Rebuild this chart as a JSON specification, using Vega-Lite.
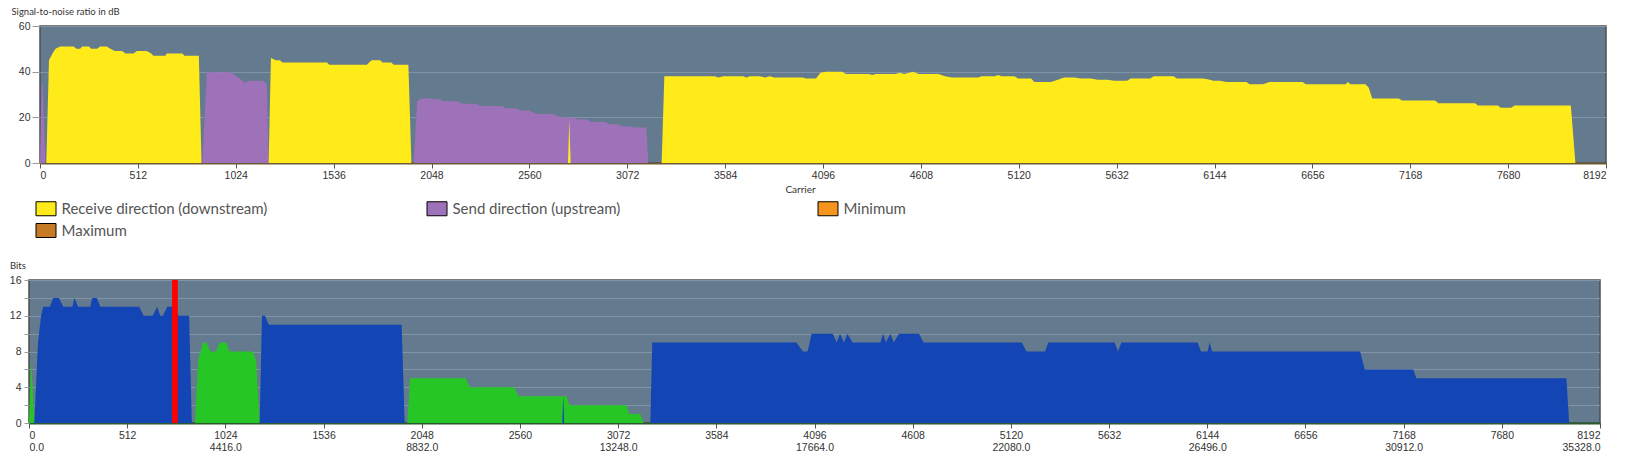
{
  "$schema": "https://vega.github.io/schema/vega-lite/v6.json",
  "background": "white",
  "padding": {"left": 8, "top": 5, "right": 0, "bottom": 0},
  "config": {
    "font": "Liberation Sans",
    "view": {"fill": "#647a8e", "stroke": "#4d4d4d", "strokeWidth": 1.5},
    "axis": {"labelFont": "Liberation Sans", "labelFontSize": 10.5, "labelColor": "#333333", "tickColor": "#9a9a9a", "gridColor": "#8094a5", "gridWidth": 1, "titleFont": "Lato", "titleFontWeight": "normal", "titleFontSize": 10, "titleColor": "#333333"}
  },
  "datasets": {
    "snr": [
      {"c": 0, "v": 0, "s": "Send direction (upstream)"},
      {"c": 8, "v": 34, "s": "Send direction (upstream)"},
      {"c": 14, "v": 34, "s": "Send direction (upstream)"},
      {"c": 28, "v": 0, "s": "Send direction (upstream)"},
      {"c": 849, "v": 0, "s": "Send direction (upstream)"},
      {"c": 873, "v": 40, "s": "Send direction (upstream)"},
      {"c": 908, "v": 40, "s": "Send direction (upstream)"},
      {"c": 920, "v": 39.5, "s": "Send direction (upstream)"},
      {"c": 940, "v": 39.5, "s": "Send direction (upstream)"},
      {"c": 954, "v": 40, "s": "Send direction (upstream)"},
      {"c": 989, "v": 40, "s": "Send direction (upstream)"},
      {"c": 1012, "v": 39, "s": "Send direction (upstream)"},
      {"c": 1029, "v": 38, "s": "Send direction (upstream)"},
      {"c": 1045, "v": 37, "s": "Send direction (upstream)"},
      {"c": 1059, "v": 36, "s": "Send direction (upstream)"},
      {"c": 1070, "v": 35, "s": "Send direction (upstream)"},
      {"c": 1094, "v": 36, "s": "Send direction (upstream)"},
      {"c": 1164, "v": 36, "s": "Send direction (upstream)"},
      {"c": 1180, "v": 35, "s": "Send direction (upstream)"},
      {"c": 1187, "v": 34, "s": "Send direction (upstream)"},
      {"c": 1196, "v": 0, "s": "Send direction (upstream)"},
      {"c": 1955, "v": 0, "s": "Send direction (upstream)"},
      {"c": 1973, "v": 27, "s": "Send direction (upstream)"},
      {"c": 1990, "v": 28, "s": "Send direction (upstream)"},
      {"c": 2020, "v": 28.5, "s": "Send direction (upstream)"},
      {"c": 2060, "v": 28, "s": "Send direction (upstream)"},
      {"c": 2094, "v": 28, "s": "Send direction (upstream)"},
      {"c": 2106, "v": 27, "s": "Send direction (upstream)"},
      {"c": 2187, "v": 27, "s": "Send direction (upstream)"},
      {"c": 2211, "v": 26, "s": "Send direction (upstream)"},
      {"c": 2280, "v": 26, "s": "Send direction (upstream)"},
      {"c": 2304, "v": 25, "s": "Send direction (upstream)"},
      {"c": 2420, "v": 25, "s": "Send direction (upstream)"},
      {"c": 2432, "v": 24, "s": "Send direction (upstream)"},
      {"c": 2490, "v": 24, "s": "Send direction (upstream)"},
      {"c": 2513, "v": 23, "s": "Send direction (upstream)"},
      {"c": 2560, "v": 23, "s": "Send direction (upstream)"},
      {"c": 2583, "v": 22, "s": "Send direction (upstream)"},
      {"c": 2606, "v": 21.5, "s": "Send direction (upstream)"},
      {"c": 2676, "v": 21.5, "s": "Send direction (upstream)"},
      {"c": 2699, "v": 21, "s": "Send direction (upstream)"},
      {"c": 2723, "v": 20, "s": "Send direction (upstream)"},
      {"c": 2781, "v": 20, "s": "Send direction (upstream)"},
      {"c": 2816, "v": 19, "s": "Send direction (upstream)"},
      {"c": 2862, "v": 19, "s": "Send direction (upstream)"},
      {"c": 2885, "v": 18, "s": "Send direction (upstream)"},
      {"c": 2955, "v": 18, "s": "Send direction (upstream)"},
      {"c": 2979, "v": 17, "s": "Send direction (upstream)"},
      {"c": 3025, "v": 17, "s": "Send direction (upstream)"},
      {"c": 3048, "v": 16, "s": "Send direction (upstream)"},
      {"c": 3095, "v": 16, "s": "Send direction (upstream)"},
      {"c": 3107, "v": 15.5, "s": "Send direction (upstream)"},
      {"c": 3172, "v": 15.5, "s": "Send direction (upstream)"},
      {"c": 3182, "v": 0, "s": "Send direction (upstream)"},

      {"c": 33, "v": 0, "s": "Receive direction (downstream)"},
      {"c": 47, "v": 45, "s": "Receive direction (downstream)"},
      {"c": 65, "v": 48, "s": "Receive direction (downstream)"},
      {"c": 81, "v": 50, "s": "Receive direction (downstream)"},
      {"c": 105, "v": 51, "s": "Receive direction (downstream)"},
      {"c": 175, "v": 51, "s": "Receive direction (downstream)"},
      {"c": 191, "v": 50, "s": "Receive direction (downstream)"},
      {"c": 210, "v": 50, "s": "Receive direction (downstream)"},
      {"c": 221, "v": 51, "s": "Receive direction (downstream)"},
      {"c": 256, "v": 51, "s": "Receive direction (downstream)"},
      {"c": 268, "v": 50, "s": "Receive direction (downstream)"},
      {"c": 298, "v": 50, "s": "Receive direction (downstream)"},
      {"c": 314, "v": 51, "s": "Receive direction (downstream)"},
      {"c": 349, "v": 51, "s": "Receive direction (downstream)"},
      {"c": 368, "v": 50, "s": "Receive direction (downstream)"},
      {"c": 391, "v": 49, "s": "Receive direction (downstream)"},
      {"c": 430, "v": 49, "s": "Receive direction (downstream)"},
      {"c": 447, "v": 48, "s": "Receive direction (downstream)"},
      {"c": 489, "v": 48, "s": "Receive direction (downstream)"},
      {"c": 507, "v": 49, "s": "Receive direction (downstream)"},
      {"c": 558, "v": 49, "s": "Receive direction (downstream)"},
      {"c": 582, "v": 48, "s": "Receive direction (downstream)"},
      {"c": 593, "v": 47, "s": "Receive direction (downstream)"},
      {"c": 656, "v": 47, "s": "Receive direction (downstream)"},
      {"c": 663, "v": 48, "s": "Receive direction (downstream)"},
      {"c": 745, "v": 48, "s": "Receive direction (downstream)"},
      {"c": 756, "v": 47, "s": "Receive direction (downstream)"},
      {"c": 831, "v": 47, "s": "Receive direction (downstream)"},
      {"c": 845, "v": 0, "s": "Receive direction (downstream)"},
      {"c": 1196, "v": 0, "s": "Receive direction (downstream)"},
      {"c": 1208, "v": 46, "s": "Receive direction (downstream)"},
      {"c": 1220, "v": 45.5, "s": "Receive direction (downstream)"},
      {"c": 1233, "v": 45, "s": "Receive direction (downstream)"},
      {"c": 1255, "v": 45, "s": "Receive direction (downstream)"},
      {"c": 1268, "v": 44, "s": "Receive direction (downstream)"},
      {"c": 1501, "v": 44, "s": "Receive direction (downstream)"},
      {"c": 1513, "v": 43, "s": "Receive direction (downstream)"},
      {"c": 1710, "v": 43, "s": "Receive direction (downstream)"},
      {"c": 1722, "v": 44, "s": "Receive direction (downstream)"},
      {"c": 1735, "v": 45, "s": "Receive direction (downstream)"},
      {"c": 1780, "v": 45, "s": "Receive direction (downstream)"},
      {"c": 1792, "v": 44, "s": "Receive direction (downstream)"},
      {"c": 1838, "v": 44, "s": "Receive direction (downstream)"},
      {"c": 1850, "v": 43, "s": "Receive direction (downstream)"},
      {"c": 1927, "v": 43, "s": "Receive direction (downstream)"},
      {"c": 1943, "v": 0, "s": "Receive direction (downstream)"},
      {"c": 2762, "v": 0, "s": "Receive direction (downstream)"},
      {"c": 2769, "v": 19, "s": "Receive direction (downstream)"},
      {"c": 2776, "v": 0, "s": "Receive direction (downstream)"},
      {"c": 3252, "v": 0, "s": "Receive direction (downstream)"},
      {"c": 3266, "v": 38, "s": "Receive direction (downstream)"},
      {"c": 3529, "v": 38, "s": "Receive direction (downstream)"},
      {"c": 3550, "v": 37.5, "s": "Receive direction (downstream)"},
      {"c": 3574, "v": 38, "s": "Receive direction (downstream)"},
      {"c": 3678, "v": 38, "s": "Receive direction (downstream)"},
      {"c": 3696, "v": 37.5, "s": "Receive direction (downstream)"},
      {"c": 3713, "v": 38, "s": "Receive direction (downstream)"},
      {"c": 3765, "v": 38, "s": "Receive direction (downstream)"},
      {"c": 3793, "v": 37.5, "s": "Receive direction (downstream)"},
      {"c": 3817, "v": 38, "s": "Receive direction (downstream)"},
      {"c": 3841, "v": 37.5, "s": "Receive direction (downstream)"},
      {"c": 3990, "v": 37.5, "s": "Receive direction (downstream)"},
      {"c": 4007, "v": 37, "s": "Receive direction (downstream)"},
      {"c": 4059, "v": 37, "s": "Receive direction (downstream)"},
      {"c": 4083, "v": 39.5, "s": "Receive direction (downstream)"},
      {"c": 4111, "v": 40, "s": "Receive direction (downstream)"},
      {"c": 4198, "v": 40, "s": "Receive direction (downstream)"},
      {"c": 4215, "v": 39, "s": "Receive direction (downstream)"},
      {"c": 4336, "v": 39, "s": "Receive direction (downstream)"},
      {"c": 4354, "v": 38.5, "s": "Receive direction (downstream)"},
      {"c": 4371, "v": 39, "s": "Receive direction (downstream)"},
      {"c": 4475, "v": 39, "s": "Receive direction (downstream)"},
      {"c": 4499, "v": 39.5, "s": "Receive direction (downstream)"},
      {"c": 4520, "v": 39, "s": "Receive direction (downstream)"},
      {"c": 4568, "v": 40, "s": "Receive direction (downstream)"},
      {"c": 4596, "v": 39, "s": "Receive direction (downstream)"},
      {"c": 4700, "v": 39, "s": "Receive direction (downstream)"},
      {"c": 4735, "v": 38, "s": "Receive direction (downstream)"},
      {"c": 4769, "v": 37.5, "s": "Receive direction (downstream)"},
      {"c": 4908, "v": 37.5, "s": "Receive direction (downstream)"},
      {"c": 4925, "v": 38, "s": "Receive direction (downstream)"},
      {"c": 4994, "v": 38, "s": "Receive direction (downstream)"},
      {"c": 5012, "v": 38.5, "s": "Receive direction (downstream)"},
      {"c": 5029, "v": 38, "s": "Receive direction (downstream)"},
      {"c": 5098, "v": 38, "s": "Receive direction (downstream)"},
      {"c": 5116, "v": 37, "s": "Receive direction (downstream)"},
      {"c": 5185, "v": 37, "s": "Receive direction (downstream)"},
      {"c": 5202, "v": 35.5, "s": "Receive direction (downstream)"},
      {"c": 5289, "v": 35.5, "s": "Receive direction (downstream)"},
      {"c": 5324, "v": 36.5, "s": "Receive direction (downstream)"},
      {"c": 5358, "v": 37.5, "s": "Receive direction (downstream)"},
      {"c": 5410, "v": 37.5, "s": "Receive direction (downstream)"},
      {"c": 5445, "v": 37, "s": "Receive direction (downstream)"},
      {"c": 5497, "v": 37, "s": "Receive direction (downstream)"},
      {"c": 5532, "v": 36.5, "s": "Receive direction (downstream)"},
      {"c": 5584, "v": 36.5, "s": "Receive direction (downstream)"},
      {"c": 5618, "v": 36, "s": "Receive direction (downstream)"},
      {"c": 5687, "v": 36, "s": "Receive direction (downstream)"},
      {"c": 5705, "v": 37, "s": "Receive direction (downstream)"},
      {"c": 5808, "v": 37, "s": "Receive direction (downstream)"},
      {"c": 5826, "v": 38, "s": "Receive direction (downstream)"},
      {"c": 5930, "v": 38, "s": "Receive direction (downstream)"},
      {"c": 5947, "v": 37, "s": "Receive direction (downstream)"},
      {"c": 6086, "v": 37, "s": "Receive direction (downstream)"},
      {"c": 6120, "v": 36.5, "s": "Receive direction (downstream)"},
      {"c": 6138, "v": 36, "s": "Receive direction (downstream)"},
      {"c": 6172, "v": 36, "s": "Receive direction (downstream)"},
      {"c": 6207, "v": 35.5, "s": "Receive direction (downstream)"},
      {"c": 6311, "v": 35.5, "s": "Receive direction (downstream)"},
      {"c": 6328, "v": 34.5, "s": "Receive direction (downstream)"},
      {"c": 6397, "v": 34.5, "s": "Receive direction (downstream)"},
      {"c": 6432, "v": 35.5, "s": "Receive direction (downstream)"},
      {"c": 6605, "v": 35.5, "s": "Receive direction (downstream)"},
      {"c": 6622, "v": 34.5, "s": "Receive direction (downstream)"},
      {"c": 6830, "v": 34.5, "s": "Receive direction (downstream)"},
      {"c": 6841, "v": 35.5, "s": "Receive direction (downstream)"},
      {"c": 6855, "v": 34.5, "s": "Receive direction (downstream)"},
      {"c": 6934, "v": 34.5, "s": "Receive direction (downstream)"},
      {"c": 6951, "v": 33, "s": "Receive direction (downstream)"},
      {"c": 6969, "v": 28.2, "s": "Receive direction (downstream)"},
      {"c": 7108, "v": 28.2, "s": "Receive direction (downstream)"},
      {"c": 7125, "v": 27.4, "s": "Receive direction (downstream)"},
      {"c": 7298, "v": 27.4, "s": "Receive direction (downstream)"},
      {"c": 7315, "v": 26.2, "s": "Receive direction (downstream)"},
      {"c": 7506, "v": 26.2, "s": "Receive direction (downstream)"},
      {"c": 7523, "v": 25.2, "s": "Receive direction (downstream)"},
      {"c": 7627, "v": 25.2, "s": "Receive direction (downstream)"},
      {"c": 7641, "v": 24.2, "s": "Receive direction (downstream)"},
      {"c": 7696, "v": 24.2, "s": "Receive direction (downstream)"},
      {"c": 7714, "v": 25.2, "s": "Receive direction (downstream)"},
      {"c": 8008, "v": 25.2, "s": "Receive direction (downstream)"},
      {"c": 8032, "v": 0, "s": "Receive direction (downstream)"}
    ],
    "bits": [
      {"c": 0, "v": 0, "s": "up"},
      {"c": 12, "v": 7, "s": "up"},
      {"c": 28, "v": 0, "s": "up"},
      {"c": 866, "v": 0, "s": "up"},
      {"c": 882, "v": 7, "s": "up"},
      {"c": 894, "v": 8, "s": "up"},
      {"c": 908, "v": 9, "s": "up"},
      {"c": 924, "v": 9, "s": "up"},
      {"c": 947, "v": 8, "s": "up"},
      {"c": 975, "v": 8, "s": "up"},
      {"c": 994, "v": 9, "s": "up"},
      {"c": 1029, "v": 9, "s": "up"},
      {"c": 1045, "v": 8, "s": "up"},
      {"c": 1168, "v": 8, "s": "up"},
      {"c": 1184, "v": 7, "s": "up"},
      {"c": 1203, "v": 0, "s": "up"},
      {"c": 1973, "v": 0, "s": "up"},
      {"c": 1987, "v": 5, "s": "up"},
      {"c": 2278, "v": 5, "s": "up"},
      {"c": 2297, "v": 4, "s": "up"},
      {"c": 2529, "v": 4, "s": "up"},
      {"c": 2553, "v": 3, "s": "up"},
      {"c": 2802, "v": 3, "s": "up"},
      {"c": 2820, "v": 2, "s": "up"},
      {"c": 3116, "v": 2, "s": "up"},
      {"c": 3130, "v": 1, "s": "up"},
      {"c": 3188, "v": 1, "s": "up"},
      {"c": 3204, "v": 0, "s": "up"},

      {"c": 28, "v": 0, "s": "down"},
      {"c": 47, "v": 9, "s": "down"},
      {"c": 63, "v": 12, "s": "down"},
      {"c": 74, "v": 13, "s": "down"},
      {"c": 109, "v": 13, "s": "down"},
      {"c": 126, "v": 14, "s": "down"},
      {"c": 156, "v": 14, "s": "down"},
      {"c": 179, "v": 13, "s": "down"},
      {"c": 226, "v": 13, "s": "down"},
      {"c": 237, "v": 14, "s": "down"},
      {"c": 256, "v": 13, "s": "down"},
      {"c": 319, "v": 13, "s": "down"},
      {"c": 330, "v": 14, "s": "down"},
      {"c": 354, "v": 14, "s": "down"},
      {"c": 372, "v": 13, "s": "down"},
      {"c": 575, "v": 13, "s": "down"},
      {"c": 598, "v": 12, "s": "down"},
      {"c": 645, "v": 12, "s": "down"},
      {"c": 668, "v": 13, "s": "down"},
      {"c": 684, "v": 12, "s": "down"},
      {"c": 698, "v": 12, "s": "down"},
      {"c": 721, "v": 13, "s": "down"},
      {"c": 760, "v": 13, "s": "down"},
      {"c": 780, "v": 12, "s": "down"},
      {"c": 835, "v": 12, "s": "down"},
      {"c": 849, "v": 0, "s": "down"},
      {"c": 1203, "v": 0, "s": "down"},
      {"c": 1215, "v": 12, "s": "down"},
      {"c": 1231, "v": 12, "s": "down"},
      {"c": 1250, "v": 11, "s": "down"},
      {"c": 1943, "v": 11, "s": "down"},
      {"c": 1959, "v": 0, "s": "down"},
      {"c": 2781, "v": 0, "s": "down"},
      {"c": 2786, "v": 3, "s": "down"},
      {"c": 2791, "v": 0, "s": "down"},
      {"c": 3240, "v": 0, "s": "down"},
      {"c": 3250, "v": 9, "s": "down"},
      {"c": 4001, "v": 9, "s": "down"},
      {"c": 4036, "v": 8, "s": "down"},
      {"c": 4060, "v": 8, "s": "down"},
      {"c": 4081, "v": 10, "s": "down"},
      {"c": 4191, "v": 10, "s": "down"},
      {"c": 4212, "v": 9, "s": "down"},
      {"c": 4229, "v": 10, "s": "down"},
      {"c": 4250, "v": 9, "s": "down"},
      {"c": 4267, "v": 10, "s": "down"},
      {"c": 4295, "v": 9, "s": "down"},
      {"c": 4440, "v": 9, "s": "down"},
      {"c": 4454, "v": 10, "s": "down"},
      {"c": 4468, "v": 9, "s": "down"},
      {"c": 4492, "v": 10, "s": "down"},
      {"c": 4509, "v": 9, "s": "down"},
      {"c": 4537, "v": 10, "s": "down"},
      {"c": 4641, "v": 10, "s": "down"},
      {"c": 4665, "v": 9, "s": "down"},
      {"c": 5177, "v": 9, "s": "down"},
      {"c": 5201, "v": 8, "s": "down"},
      {"c": 5298, "v": 8, "s": "down"},
      {"c": 5315, "v": 9, "s": "down"},
      {"c": 5661, "v": 9, "s": "down"},
      {"c": 5679, "v": 8, "s": "down"},
      {"c": 5696, "v": 9, "s": "down"},
      {"c": 6094, "v": 9, "s": "down"},
      {"c": 6111, "v": 8, "s": "down"},
      {"c": 6146, "v": 8, "s": "down"},
      {"c": 6156, "v": 9, "s": "down"},
      {"c": 6170, "v": 8, "s": "down"},
      {"c": 6941, "v": 8, "s": "down"},
      {"c": 6965, "v": 6, "s": "down"},
      {"c": 7218, "v": 6, "s": "down"},
      {"c": 7235, "v": 5, "s": "down"},
      {"c": 8017, "v": 5, "s": "down"},
      {"c": 8031, "v": 0, "s": "down"}
    ],
    "marker": [
      {"c": 746, "c2": 776, "v": 0, "v2": 16}
    ],
    "spacer": []
  },
  "spacing": 63,
  "vconcat": [
    {
      "spacing": -20,
      "hconcat": [
        {
          "width": 1,
          "height": 1,
          "view": {"fill": null, "stroke": null},
          "data": {"name": "spacer"},
          "mark": {"type": "rect"},
          "encoding": {}
        },
        {
          "width": 1566,
          "height": 137,
          "title": {"text": "Signal-to-noise ratio in dB", "anchor": "start", "frame": "group", "dx": -28.5, "font": "Lato", "fontSize": 9.5, "fontWeight": "normal", "color": "#333333", "offset": 5},
          "data": {"name": "snr"},
          "encoding": {
            "x": {"field": "c", "type": "quantitative", "scale": {"domain": [0, 8192], "nice": false, "zero": false},
              "axis": {"values": [0, 512, 1024, 1536, 2048, 2560, 3072, 3584, 4096, 4608, 5120, 5632, 6144, 6656, 7168, 7680, 8192], "format": "d", "title": "Carrier", "titleX": 760, "titlePadding": 4, "grid": false, "domainColor": "#6e5a36", "domainWidth": 2, "tickColor": "#555555", "tickSize": 5, "labelPadding": 2}},
            "y": {"field": "v", "type": "quantitative", "stack": null, "scale": {"domain": [0, 60], "nice": false},
              "axis": {"values": [0, 20, 40, 60], "title": null, "domain": false, "tickSize": 8, "labelPadding": 2, "grid": true}}
          },
          "layer": [
            {
              "transform": [{"filter": "datum.s === 'Send direction (upstream)'"}],
              "mark": {"type": "area", "interpolate": "linear", "opacity": 1},
              "encoding": {
                "color": {"field": "s", "type": "nominal",
                  "scale": {"domain": ["Receive direction (downstream)", "Send direction (upstream)", "Minimum", "Maximum"], "range": ["#ffea1a", "#9d72b9", "#f7941d", "#c77a26"]},
                  "legend": {"orient": "none", "legendX": 6.5, "legendY": 172, "direction": "horizontal", "columns": 3, "title": null,
                    "symbolType": "M-1,-0.7H1V0.7H-1Z", "symbolSize": 400, "symbolStrokeColor": "#000000", "symbolStrokeWidth": 1, "symbolOpacity": 1,
                    "labelFont": "Lato", "labelFontSize": 15, "labelColor": "#555555", "labelOffset": 5, "labelLimit": 400,
                    "columnPadding": 157, "rowPadding": 2, "gridAlign": "all"}}
              }
            },
            {
              "transform": [{"filter": "datum.s === 'Receive direction (downstream)'"}],
              "mark": {"type": "area", "interpolate": "linear", "opacity": 1},
              "encoding": {
                "color": {"field": "s", "type": "nominal"}
              }
            }
          ]
        }
      ]
    },
    {
      "width": 1571,
      "height": 143,
      "title": {"text": "Bits", "anchor": "start", "frame": "group", "dx": -19, "font": "Lato", "fontSize": 9.5, "fontWeight": "normal", "color": "#333333", "offset": 5},
      "encoding": {
        "x": {"field": "c", "type": "quantitative", "scale": {"domain": [0, 8192], "nice": false, "zero": false},
          "axis": {"values": [0, 512, 1024, 1536, 2048, 2560, 3072, 3584, 4096, 4608, 5120, 5632, 6144, 6656, 7168, 7680, 8192], "format": "d", "title": null, "grid": false, "domainColor": "#2b5a2e", "domainWidth": 2, "tickColor": "#555555", "tickSize": 5, "labelPadding": 2, "labelLineHeight": 12,
            "labelExpr": "datum.value % 1024 === 0 ? [datum.label, format(datum.value * 4.3125, '.1f')] : datum.label"}},
        "y": {"field": "v", "type": "quantitative", "stack": null, "scale": {"domain": [0, 16], "nice": false},
          "axis": {"values": [0, 2, 4, 6, 8, 10, 12, 14, 16], "labelExpr": "datum.value % 4 === 0 ? datum.label : ''", "title": null, "domain": false, "tickSize": 5, "labelPadding": 3, "grid": true}}
      },
      "layer": [
        {
          "data": {"name": "bits"},
          "transform": [{"filter": "datum.s === 'up'"}],
          "mark": {"type": "area", "interpolate": "linear", "color": "#27c627", "opacity": 1}
        },
        {
          "data": {"name": "bits"},
          "transform": [{"filter": "datum.s === 'down'"}],
          "mark": {"type": "area", "interpolate": "linear", "color": "#1346b4", "opacity": 1}
        },
        {
          "data": {"name": "marker"},
          "mark": {"type": "rect", "color": "#ff0000"},
          "encoding": {
            "x2": {"field": "c2"},
            "y2": {"field": "v2"}
          }
        }
      ]
    }
  ]
}
